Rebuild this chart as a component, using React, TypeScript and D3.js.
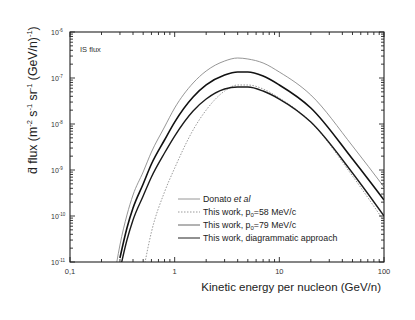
import React from 'react';
import * as d3 from 'd3';

// kinetic energy grid (GeV/n)
const energy = [0.28, 0.3, 0.35, 0.4, 0.5, 0.6, 0.8, 1, 1.5, 2, 3, 4, 5, 7, 10, 20, 50, 100];

// flux values (null = off the plot)
const donato = [1.0e-11, 2.34e-11, 1.05e-10, 2.86e-10, 9.06e-10, 2.46e-9, 8.61e-9, 2.23e-8, 7.78e-8, 1.42e-7, 2.34e-7, 2.72e-7, 2.59e-7, 2.12e-7, 1.35e-7, 4.27e-8, 3.33e-9, 4.27e-10];
const p58 = [null, null, null, null, 6.1e-12, 4.49e-11, 3.33e-10, 1.10e-9, 7.41e-9, 2.01e-8, 5.21e-8, 7.05e-8, 7.05e-8, 5.77e-8, 3.67e-8, 1.10e-8, 7.41e-10, 7.78e-11];
const p79 = [null, 6.7e-12, 3.0e-11, 8.2e-11, 2.72e-10, 7.05e-10, 2.34e-9, 5.48e-9, 1.92e-8, 3.49e-8, 5.77e-8, 6.37e-8, 6.37e-8, 5.21e-8, 3.49e-8, 1.10e-8, 8.61e-10, 1.0e-10];
const diagrammatic = [null, 1.22e-11, 5.48e-11, 1.49e-10, 4.97e-10, 1.35e-9, 4.49e-9, 1.10e-8, 3.86e-8, 7.05e-8, 1.16e-7, 1.35e-7, 1.35e-7, 1.10e-7, 7.05e-8, 2.23e-8, 1.73e-9, 2.23e-10];

const xTicks = [0.1, 1, 10, 100];
const xTickLabels = ['0,1', '1', '10', '100'];
const yExponents = [-11, -10, -9, -8, -7, -6];

const FONT = 'Liberation Sans, Arial, sans-serif';

const App = () => {
  const margin = { top: 32, right: 31, bottom: 58, left: 70 };
  const W = 415, H = 320;
  const x = d3.scaleLog().domain([0.1, 100]).range([margin.left, W - margin.right]);
  const y = d3.scaleLog().domain([1e-11, 1e-6]).range([H - margin.bottom, margin.top]);
  const [x0, x1] = x.range();
  const [y0, y1] = y.range();

  const line = d3.line<any>()
    .defined(d => d[1] != null)
    .x(d => x(d[0]))
    .y(d => y(d[1]))
    .curve(d3.curveMonotoneX);

  const series = [
    { name: 'donato', values: donato, stroke: '#8a8a8a', width: 0.9, dash: undefined },
    { name: 'p58', values: p58, stroke: '#9a9a9a', width: 1, dash: '1.5,1.5' },
    { name: 'p79', values: p79, stroke: '#1a1a1a', width: 1.4, dash: undefined },
    { name: 'diag', values: diagrammatic, stroke: '#111', width: 1.6, dash: undefined },
  ];

  // minor ticks
  const xMinor: number[] = [];
  [0.1, 1, 10].forEach(d => { for (let k = 2; k <= 9; k++) xMinor.push(d * k); });
  const yMinor: number[] = [];
  yExponents.slice(0, -1).forEach(e => { for (let k = 2; k <= 9; k++) yMinor.push(k * Math.pow(10, e)); });

  const legend = [
    { label: <><tspan>Donato </tspan><tspan fontStyle="italic">et al</tspan></>, stroke: '#8a8a8a', width: 0.9, dash: undefined },
    { label: <><tspan>This work, p</tspan><tspan fontSize="6" dy="2">0</tspan><tspan dy="-2">=58 MeV/c</tspan></>, stroke: '#9a9a9a', width: 1, dash: '1.5,1.5' },
    { label: <><tspan>This work, p</tspan><tspan fontSize="6" dy="2">0</tspan><tspan dy="-2">=79 MeV/c</tspan></>, stroke: '#555', width: 0.9, dash: undefined },
    { label: <tspan>This work, diagrammatic approach</tspan>, stroke: '#222', width: 1, dash: undefined },
  ];

  return (
    <svg width={W} height={H} style={{ position: 'absolute', left: 0, top: 0, background: '#fff' }} fontFamily={FONT}>
      <defs>
        <clipPath id="plot">
          <rect x={x0} y={y1} width={x1 - x0} height={y0 - y1} />
        </clipPath>
      </defs>

      {/* curves */}
      <g clipPath="url(#plot)" fill="none">
        {series.map(s => (
          <path key={s.name}
            d={line(energy.map((e, i) => [e, s.values[i]])) || ''}
            stroke={s.stroke} strokeWidth={s.width} strokeDasharray={s.dash} />
        ))}
      </g>

      {/* frame */}
      <rect x={x0} y={y1} width={x1 - x0} height={y0 - y1} fill="none" stroke="#222" strokeWidth={1.1} />

      {/* ticks on all four sides, inward */}
      <g stroke="#222" strokeWidth={0.9}>
        {xTicks.map(t => (
          <g key={'xt' + t}>
            <line x1={x(t)} x2={x(t)} y1={y0} y2={y0 - 5} />
            <line x1={x(t)} x2={x(t)} y1={y1} y2={y1 + 5} />
          </g>
        ))}
        {xMinor.map(t => (
          <g key={'xm' + t}>
            <line x1={x(t)} x2={x(t)} y1={y0} y2={y0 - 3} />
            <line x1={x(t)} x2={x(t)} y1={y1} y2={y1 + 3} />
          </g>
        ))}
        {yExponents.map(e => (
          <g key={'yt' + e}>
            <line x1={x0} x2={x0 + 5} y1={y(Math.pow(10, e))} y2={y(Math.pow(10, e))} />
            <line x1={x1} x2={x1 - 5} y1={y(Math.pow(10, e))} y2={y(Math.pow(10, e))} />
          </g>
        ))}
        {yMinor.map(t => (
          <g key={'ym' + t}>
            <line x1={x0} x2={x0 + 3} y1={y(t)} y2={y(t)} />
            <line x1={x1} x2={x1 - 3} y1={y(t)} y2={y(t)} />
          </g>
        ))}
      </g>

      {/* x tick labels */}
      <g fontSize="7.5" fill="#333" textAnchor="middle">
        {xTicks.map((t, i) => (
          <text key={'xl' + t} x={x(t)} y={y0 + 12}>{xTickLabels[i]}</text>
        ))}
      </g>

      {/* y tick labels */}
      <g fontSize="7" fill="#333">
        {yExponents.map(e => (
          <text key={'yl' + e} x={x0 - 19} y={y(Math.pow(10, e)) + 3}>
            10<tspan fontSize="4.5" dy="-3.5">{e}</tspan>
          </text>
        ))}
      </g>

      {/* axis titles */}
      <text x={381} y={291} textAnchor="end" fontSize="11.5" fill="#222">Kinetic energy per nucleon (GeV/n)</text>
      <text transform="translate(37,174) rotate(-90)" fontSize="12.3" fill="#222">
        {'d\u0304 flux (m'}
        <tspan fontSize="7.5" dy="-5">-2</tspan>
        <tspan dy="5"> s</tspan>
        <tspan fontSize="7.5" dy="-5">-1</tspan>
        <tspan dy="5"> sr</tspan>
        <tspan fontSize="7.5" dy="-5">-1</tspan>
        <tspan dy="5"> (GeV/n)</tspan>
        <tspan fontSize="7.5" dy="-5">-1</tspan>
        <tspan dy="5">)</tspan>
      </text>

      <text x={80} y={52} fontSize="7.5" fill="#333">IS flux</text>

      {/* legend */}
      <g fontSize="8.8" fill="#222">
        {legend.map((l, i) => (
          <g key={'lg' + i} transform={`translate(178,${199 + i * 13})`}>
            <line x1={0} x2={22} y1={0} y2={0} stroke={l.stroke} strokeWidth={l.width} strokeDasharray={l.dash} />
            <text x={25} y={3}>{l.label}</text>
          </g>
        ))}
      </g>
    </svg>
  );
};

export default App;
